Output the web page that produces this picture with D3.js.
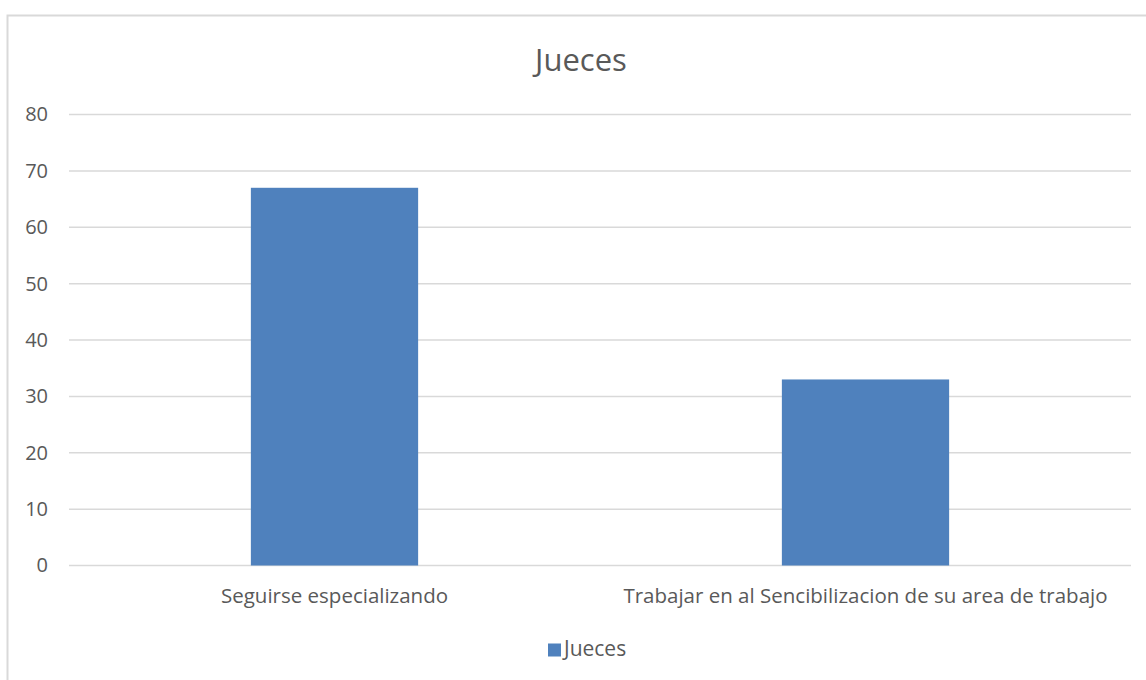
<!DOCTYPE html>
<html>
<head>
<meta charset="utf-8">
<script src="https://cdn.jsdelivr.net/npm/d3@7"></script>
<style>
  body { margin: 0; background: #fff; }
  text { font-family: "Open Sans", "Noto Sans", sans-serif; fill: #595959; }
</style>
</head>
<body>
<svg id="chart" width="1146" height="680"></svg>
<script>
var categories = ["Seguirse especializando", "Trabajar en al Sencibilizacion de su area de trabajo"]
var values = [67, 33]
var yTicks = [0, 10, 20, 30, 40, 50, 60, 70, 80]
var seriesName = "Jueces"

var bar_color = "#4f81bd"
var grid_color = "#d9d9d9"

var svg = d3.select("svg#chart")

// chart frame, cut off at right and bottom like the original screenshot
svg.append("rect")
    .attr("x", 7.5).attr("y", 15.5)
    .attr("width", 1160).attr("height", 700)
    .attr("fill", "#fff")
    .attr("stroke", grid_color).attr("stroke-width", 2)

var plotLeft = 69, plotRight = 1131, plotTop = 114.5, plotBottom = 565.5

var x = d3.scaleBand()
    .domain(categories)
    .range([plotLeft, plotRight])
    .paddingInner(0.685)
    .paddingOuter(0.3425)

var y = d3.scaleLinear()
    .domain([0, 80])
    .range([plotBottom, plotTop])

// gridlines
svg.append("g").selectAll("line")
    .data(yTicks)
    .enter().append("line")
    .attr("x1", plotLeft).attr("x2", plotRight)
    .attr("y1", function (d) { return y(d) })
    .attr("y2", function (d) { return y(d) })
    .attr("stroke", grid_color).attr("stroke-width", 1.5)

// y axis labels
var yAxis = d3.axisLeft(y).tickValues(yTicks).tickSize(0).tickPadding(0)
var yg = svg.append("g").attr("transform", "translate(48,0)").call(yAxis)
yg.select(".domain").remove()
yg.selectAll("text").style("font-size", "20px").attr("fill", "#595959")

// bars
svg.append("g").selectAll("rect")
    .data(values)
    .enter().append("rect")
    .attr("x", function (d, i) { return x(categories[i]) })
    .attr("y", function (d) { return y(d) })
    .attr("width", x.bandwidth())
    .attr("height", function (d) { return y(0) - y(d) })
    .attr("fill", bar_color)

// x axis labels
var xAxis = d3.axisBottom(x).tickSize(0).tickPadding(0)
var xg = svg.append("g").attr("transform", "translate(0,588)").call(xAxis)
xg.select(".domain").remove()
xg.selectAll("text").style("font-size", "20.5px").attr("fill", "#595959")

// title
svg.append("text")
    .attr("x", 581).attr("y", 71)
    .attr("text-anchor", "middle")
    .style("font-size", "31px")
    .text(seriesName)

// legend
svg.append("rect")
    .attr("x", 548).attr("y", 643.5)
    .attr("width", 13).attr("height", 13)
    .attr("fill", bar_color)
svg.append("text")
    .attr("x", 564).attr("y", 650)
    .attr("dominant-baseline", "middle")
    .style("font-size", "21px")
    .text(seriesName)
</script>
</body>
</html>
